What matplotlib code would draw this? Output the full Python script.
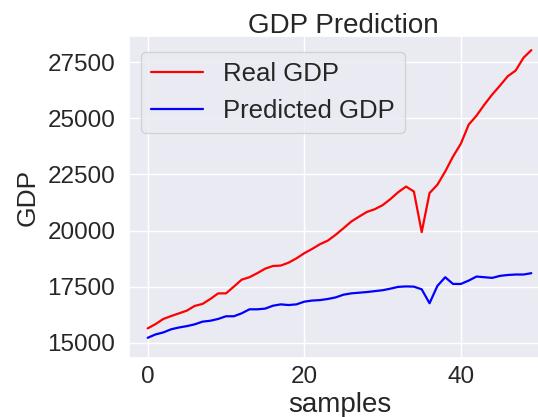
import numpy as np
import matplotlib
matplotlib.use("Agg")
import matplotlib.pyplot as plt
import seaborn as sns

# values
real_gdp = [15640, 15830, 16060, 16190, 16310, 16430, 16640, 16730, 16950, 17200,
            17200, 17500, 17810, 17920, 18100, 18300, 18420, 18440, 18570, 18760,
            18990, 19180, 19390, 19550, 19810, 20100, 20400, 20620, 20830, 20950,
            21130, 21400, 21710, 21960, 21740, 19930, 21670, 22040, 22630, 23300,
            23870, 24720, 25120, 25610, 26060, 26460, 26880, 27130, 27700, 28040]
pred_gdp = [15220, 15370, 15460, 15600, 15680, 15740, 15820, 15940, 15980, 16060,
            16180, 16180, 16310, 16490, 16490, 16520, 16650, 16710, 16680, 16710,
            16830, 16880, 16900, 16950, 17020, 17140, 17200, 17230, 17260, 17300,
            17340, 17410, 17490, 17510, 17500, 17380, 16760, 17530, 17920, 17620,
            17620, 17770, 17950, 17920, 17890, 17980, 18020, 18040, 18040, 18100]
samples = np.arange(len(real_gdp))

sns.set_theme(style="darkgrid")
plt.rcParams['font.family'] = ['Liberation Sans', 'DejaVu Sans']

W, H = 538, 417
fig = plt.figure(figsize=(W / 100, H / 100), dpi=100)
left, right, top, bottom = 128.5, 550.5, 36.0, 358.0
ax = fig.add_axes([left / W, 1 - bottom / H, (right - left) / W, (bottom - top) / H])

ax.plot(samples, real_gdp, color='red', lw=1.6, label='Real GDP')
ax.plot(samples, pred_gdp, color='blue', lw=1.6, label='Predicted GDP')

ax.set_xlim(-2.45, 51.45)
ax.set_ylim(14320, 28670)
ax.set_xticks([0, 20, 40])
ax.set_yticks([15000, 17500, 20000, 22500, 25000, 27500])
ax.tick_params(labelsize=17.5, colors='#262626')
ax.tick_params(axis='x', length=0, pad=5.5)

ax.set_title('GDP Prediction', fontsize=20, color='#262626', x=0.508, pad=2)
ax.set_xlabel('samples', fontsize=20, color='#262626', labelpad=3)
ax.set_ylabel('GDP', fontsize=19, color='#262626', labelpad=5.5)

ax.legend(loc='upper left', fontsize=18.5, handlelength=2.0, borderaxespad=0,
          bbox_to_anchor=(12.5 / 422, 1 - 15.5 / 322))

plt.savefig('out.png', dpi=100)
